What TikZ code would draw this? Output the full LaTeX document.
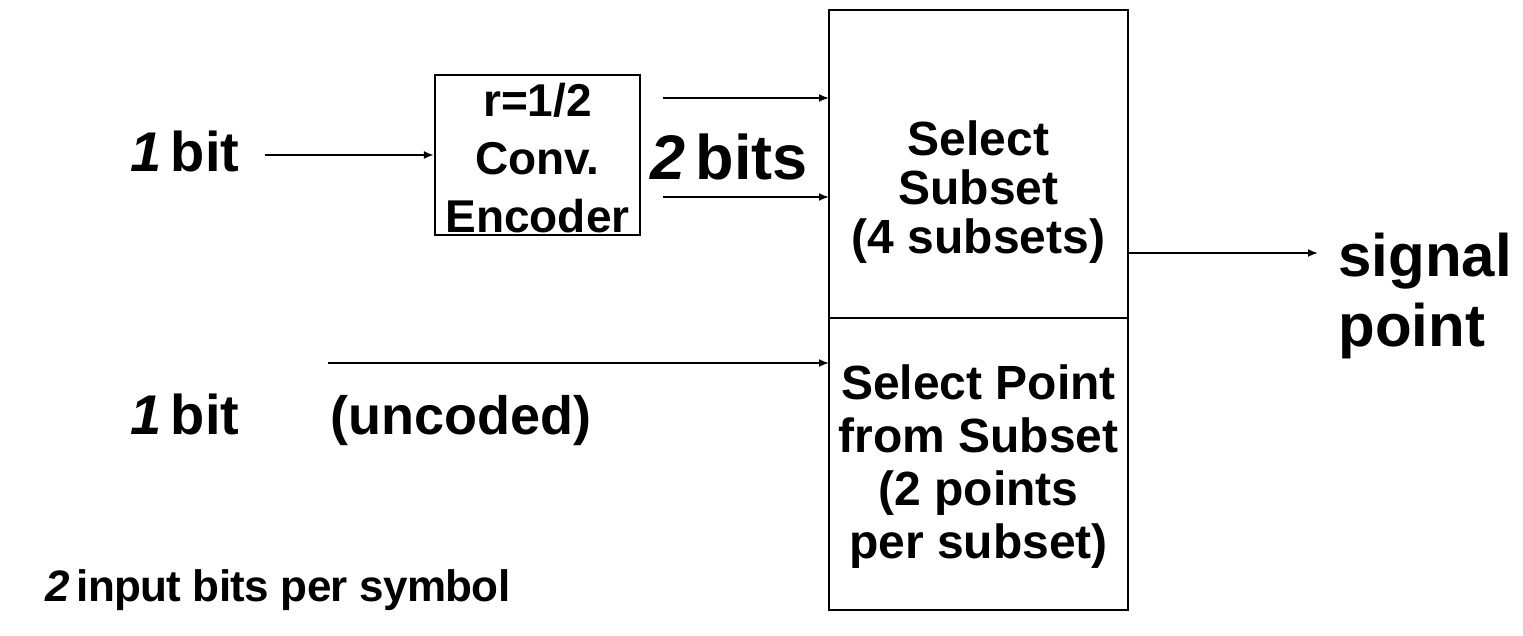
\documentclass[tikz,border=0pt]{standalone}
\usepackage{fontspec}
\setmainfont{Liberation Sans}
\usetikzlibrary{arrows.meta}
\begin{document}
\begin{tikzpicture}[x=0.5pt,y=-0.5pt,
  boxd/.style={draw, line width=1.1pt, inner sep=0pt},
  lbl/.style={inner sep=0pt, font=\bfseries},
  conn/.style={line width=0.9pt, -{Latex[length=5pt,width=4pt]}},
  inbox/.style={inner sep=0pt, align=center, font=\fontsize{24}{26}\bfseries\selectfont}
]
\useasboundingbox (0,0) rectangle (1523,636);
% boxes
\node[boxd, minimum width=102.5pt, minimum height=80pt] (enc) at (537.5,155) {};
\node[boxd, minimum width=149.5pt, minimum height=154pt] (sub) at (978.5,164) {};
\node[boxd, minimum width=149.5pt, minimum height=146pt] (pt) at (978.5,464) {};
% box texts
\node[inbox, font=\fontsize{23}{29}\bfseries\selectfont] (enctxt) at (537.5,158) {r=1/2\\Conv.\\Encoder};
\node[inbox, font=\fontsize{24}{24.5}\bfseries\selectfont] (subtxt) at (978.5,192) {Select\\Subset\\(4 subsets)};
\node[inbox, font=\fontsize{24}{26.5}\bfseries\selectfont] (pttxt) at (978.5,467) {Select Point\\from Subset\\(2 points\\per subset)};
% labels
\node[lbl, anchor=base west, font=\fontsize{28}{30}\bfseries\selectfont] (bit1) at (130,172) {\textit{1}\,bit};
\node[lbl, anchor=base west, font=\fontsize{28}{30}\bfseries\selectfont] (bit2) at (130,435) {\textit{1}\,bit};
\node[lbl, anchor=base west, font=\fontsize{27}{30}\bfseries\selectfont] (unc) at (330,435) {(uncoded)};
\node[lbl, anchor=base west, font=\fontsize{31.5}{30}\bfseries\selectfont] (bits2) at (650,180) {\textit{2}\,bits};
\node[lbl, anchor=base west, font=\fontsize{30}{30}\bfseries\selectfont] (sig) at (1338,277) {signal};
\node[lbl, anchor=base west, font=\fontsize{30}{30}\bfseries\selectfont] (pnt) at (1338,347) {point};
\node[lbl, anchor=base west, font=\fontsize{22}{30}\bfseries\addfontfeature{LetterSpace=-1.5}\selectfont] (tot) at (45,602) {\textit{2}\,input bits per symbol};
% connector endpoints
\coordinate (a0) at (265,155);
\coordinate (b0) at (663,98);
\coordinate (b1) at (829,98);
\coordinate (c0) at (663,197);
\coordinate (c1) at (829,197);
\coordinate (d0) at (328,363);
\coordinate (d1) at (829,363);
\coordinate (e0) at (1128,253);
\coordinate (e1) at (1318,253);
% connectors
\draw[conn] (a0) -- (enc.west);
\draw[conn] (b0) -- (b1);
\draw[conn] (c0) -- (c1);
\draw[conn] (d0) -- (d1);
\draw[conn] (e0) -- (e1);
\end{tikzpicture}
\end{document}
